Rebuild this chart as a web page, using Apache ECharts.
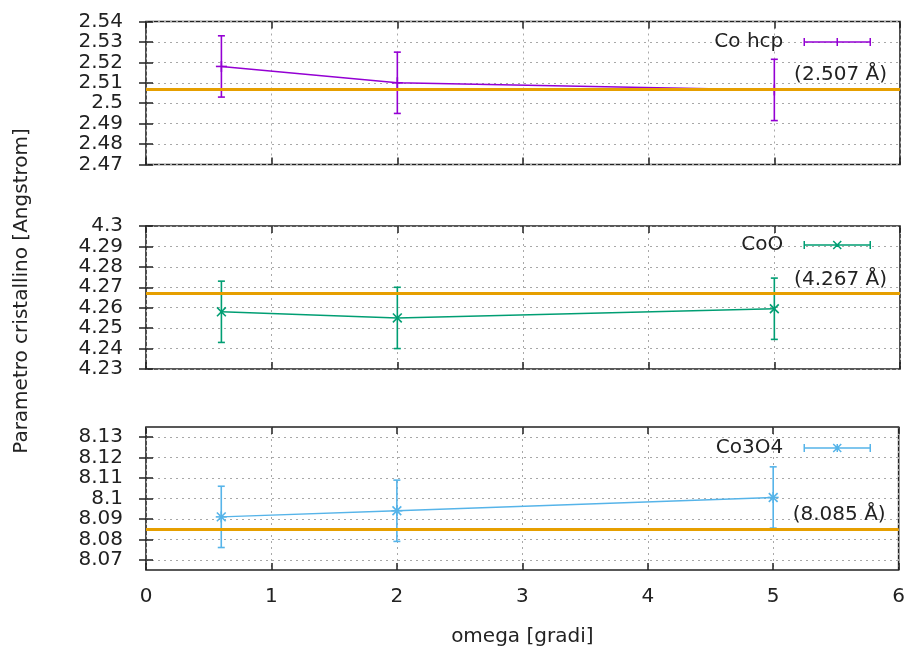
<!DOCTYPE html>
<html>
<head>
<meta charset="utf-8">
<title>Parametro cristallino vs omega</title>
<script src="https://cdn.jsdelivr.net/npm/echarts@6/dist/echarts.min.js"></script>
<style>
  html, body { margin: 0; padding: 0; background: #fff; }
  #chart { width: 908px; height: 652px; }
</style>
</head>
<body>
<div id="chart"></div>
<script>
// Lattice parameter measured at each grazing angle omega (degrees)
const omega = [0.6, 2, 5];

const phaseNames = ['Co hcp', 'CoO', 'Co3O4'];
const coHcp = [2.518, 2.510, 2.5065];
const coO = [4.258, 4.255, 4.2595];
const co3o4 = [8.091, 8.094, 8.1005];
const errCoHcp = [0.015, 0.015, 0.015];
const errCoO = [0.015, 0.015, 0.015];
const errCo3o4 = [0.015, 0.015, 0.015];

// Reference (bulk) lattice parameters, in Angstrom
const refValues = [2.507, 4.267, 8.085];

// Axis ranges and tick labels for each panel
const xTicks = [0, 1, 2, 3, 4, 5, 6];
const yRanges = [[2.47, 2.54], [4.23, 4.30], [8.065, 8.135]];
const yTicksCo3o4 = [8.07, 8.08, 8.09, 8.10, 8.11, 8.12, 8.13];

const values = [coHcp, coO, co3o4];
const errors = [errCoHcp, errCoO, errCo3o4];
const markers = ['plus', 'cross', 'star'];

const colors = ['#9400d3', '#009e73', '#56b4e9'];
const refColor = '#e69f00';
const font = 'DejaVu Sans';
const textColor = '#222';
const labelSize = 20;
const titleSize = 20;
const gridTops = [21.5, 226, 427];
const panelHeight = 143;

// Legend sample: error bar with caps and the point marker in the middle
function legendIcon(marker) {
  let p = 'path://M0 4 L66 4 M0 0 L0 8 M66 0 L66 8';
  if (marker === 'plus' || marker === 'star') p += ' M33 0 L33 8';
  if (marker === 'cross' || marker === 'star') p += ' M29 0 L37 8 M37 0 L29 8';
  return p;
}

function errorBarRenderer(marker) {
  return function (params, api) {
    const x = api.value(0), y = api.value(1), e = api.value(2);
    const c = api.coord([x, y]);
    const hi = api.coord([x, y + e]);
    const lo = api.coord([x, y - e]);
    const color = api.visual('color');
    const cap = 3.5, m = 5.5;
    const shapes = [
      { x1: c[0], y1: hi[1], x2: c[0], y2: lo[1] },
      { x1: c[0] - cap, y1: hi[1], x2: c[0] + cap, y2: hi[1] },
      { x1: c[0] - cap, y1: lo[1], x2: c[0] + cap, y2: lo[1] }
    ];
    if (marker === 'plus' || marker === 'star') {
      shapes.push({ x1: c[0] - m, y1: c[1], x2: c[0] + m, y2: c[1] });
      shapes.push({ x1: c[0], y1: c[1] - m, x2: c[0], y2: c[1] + m });
    }
    if (marker === 'cross' || marker === 'star') {
      const d = m * 0.8;
      shapes.push({ x1: c[0] - d, y1: c[1] - d, x2: c[0] + d, y2: c[1] + d });
      shapes.push({ x1: c[0] - d, y1: c[1] + d, x2: c[0] + d, y2: c[1] - d });
    }
    return {
      type: 'group',
      children: shapes.map(function (s) {
        return { type: 'line', shape: s, style: { stroke: color, lineWidth: 1.6 } };
      })
    };
  };
}

const grids = [], xAxes = [], yAxes = [], series = [], legends = [];
const tickStyle = { color: textColor, width: 1.5 };
const gridLine = { show: true, lineStyle: { color: '#a8a8a8', width: 1, type: [2, 4] } };
const legendTops = [32, 235, 438];

for (let i = 0; i < 3; i++) {
  grids.push({
    left: 146, right: 8, top: gridTops[i], height: panelHeight,
    show: true, borderColor: textColor, borderWidth: 1.6, backgroundColor: 'transparent'
  });
  const isBottom = i === 2;
  xAxes.push({
    type: 'value', gridIndex: i, position: 'bottom',
    min: xTicks[0], max: xTicks[xTicks.length - 1], interval: 1,
    axisLine: { show: false },
    axisTick: { show: true, inside: true, length: 7, lineStyle: tickStyle },
    axisLabel: { show: isBottom, margin: 17, color: textColor, fontFamily: font, fontSize: labelSize },
    splitLine: gridLine,
    name: isBottom ? 'omega [gradi]' : '',
    nameLocation: 'middle', nameGap: 57,
    nameTextStyle: { color: textColor, fontFamily: font, fontSize: titleSize }
  });
  xAxes.push({
    type: 'value', gridIndex: i, position: 'top',
    min: xTicks[0], max: xTicks[xTicks.length - 1], interval: 1,
    axisLine: { show: false },
    axisTick: { show: true, inside: true, length: 7, lineStyle: tickStyle },
    axisLabel: { show: false }, splitLine: { show: false }
  });
  const yr = yRanges[i];
  const custom = isBottom ? yTicksCo3o4 : null;
  const yLeft = {
    type: 'value', gridIndex: i, position: 'left',
    min: yr[0], max: yr[1],
    axisLine: { show: false },
    axisTick: { show: true, inside: true, length: 7, lineStyle: tickStyle },
    axisLabel: {
      show: true, margin: 23, color: textColor, fontFamily: font, fontSize: labelSize,
      hideOverlap: false, showMinLabel: true, showMaxLabel: true
    },
    splitLine: gridLine
  };
  const yRight = {
    type: 'value', gridIndex: i, position: 'right',
    min: yr[0], max: yr[1],
    axisLine: { show: false },
    axisTick: { show: true, inside: true, length: 7, lineStyle: tickStyle },
    axisLabel: { show: false }, splitLine: { show: false }
  };
  if (custom) {
    yLeft.axisTick.customValues = custom;
    yLeft.axisLabel.customValues = custom;
    yRight.axisTick.customValues = custom;
  } else {
    yLeft.interval = 0.01;
    yRight.interval = 0.01;
  }
  yAxes.push(yLeft, yRight);

  const name = phaseNames[i];
  const ref = refValues[i];
  series.push({
    name: name, type: 'line',
    xAxisIndex: 2 * i, yAxisIndex: 2 * i,
    data: omega.map(function (x, k) { return [x, values[i][k]]; }),
    showSymbol: false, symbol: 'none',
    lineStyle: { color: colors[i], width: 1.4 },
    itemStyle: { color: colors[i] },
    z: 3,
    markLine: {
      silent: true, symbol: ['none', 'none'], precision: 3,
      lineStyle: { color: refColor, width: 3, type: 'solid' },
      label: {
        show: true, position: 'insideEndTop', distance: [13, 4],
        formatter: '(' + ref.toFixed(3) + ' \u00c5)',
        color: textColor, fontFamily: font, fontSize: labelSize
      },
      data: [{ yAxis: ref }]
    }
  });
  series.push({
    name: name, type: 'custom',
    xAxisIndex: 2 * i, yAxisIndex: 2 * i,
    encode: { x: 0, y: 1 },
    data: omega.map(function (x, k) { return [x, values[i][k], errors[i][k]]; }),
    renderItem: errorBarRenderer(markers[i]),
    itemStyle: { color: colors[i] },
    z: 4
  });
  legends.push({
    data: [{ name: name, icon: legendIcon(markers[i]) }],
    right: 37, top: legendTops[i], padding: 0,
    align: 'right', selectedMode: false,
    itemWidth: 66, itemHeight: 8,
    itemStyle: { color: 'transparent', borderColor: colors[i], borderWidth: 1.5 },
    textStyle: { color: textColor, fontFamily: font, fontSize: labelSize, padding: [0, 16, 0, 0] }
  });
}

const chart = echarts.init(document.getElementById('chart'), null, { renderer: 'canvas' });
chart.setOption({
  animation: false,
  backgroundColor: '#fff',
  textStyle: { fontFamily: font },
  grid: grids,
  xAxis: xAxes,
  yAxis: yAxes,
  legend: legends,
  series: series,
  graphic: [{
    type: 'text', x: 22, y: 291,
    rotation: Math.PI / 2,
    style: {
      text: 'Parametro cristallino [Angstrom]',
      fill: textColor, font: titleSize + 'px "DejaVu Sans"',
      align: 'center', verticalAlign: 'middle'
    }
  }]
});
</script>
</body>
</html>
